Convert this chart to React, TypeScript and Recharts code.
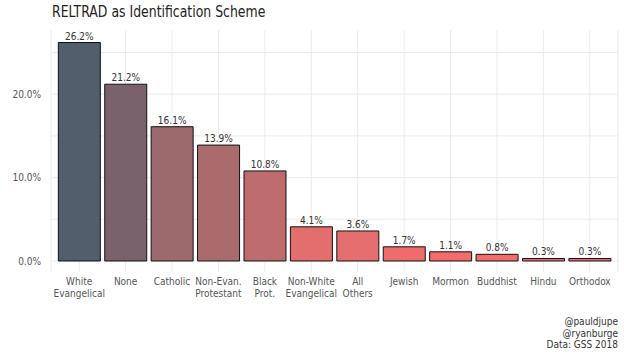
import { BarChart, Bar, XAxis, YAxis, CartesianGrid, LabelList, Cell } from 'recharts'

const categories = [
  'White\nEvangelical',
  'None',
  'Catholic',
  'Non-Evan.\nProtestant',
  'Black\nProt.',
  'Non-White\nEvangelical',
  'All\nOthers',
  'Jewish',
  'Mormon',
  'Buddhist',
  'Hindu',
  'Orthodox',
]
const shares = [26.2, 21.2, 16.1, 13.9, 10.8, 4.1, 3.6, 1.7, 1.1, 0.8, 0.3, 0.3]
const yTicks = [0, 10, 20]
const gridValues = [0, 5, 10, 15, 20, 25]
const captionLines = ['@pauldjupe', '@ryanburge', 'Data: GSS 2018']

// fill runs from slate (largest) to coral (smallest), like a ggplot gradient
const colors = [
  '#525E6B',
  '#79626B',
  '#9C696C',
  '#AA6B6D',
  '#BD6C6E',
  '#E26E6E',
  '#E56E6E',
  '#EF6C6C',
  '#F26C6C',
  '#F36C6C',
  '#F56B6B',
  '#F56B6B',
]

const data = categories.map((name, i) => ({ name, pct: shares[i] }))

const FONT = '"DejaVu Sans Condensed", "Roboto", sans-serif'

const CatTick = (props: any) => {
  const { x, y, payload } = props
  const lines = String(payload.value).split('\n')
  return (
    <text x={x} y={y} textAnchor="middle" fill="#555" fontSize={10} fontFamily={FONT}>
      {lines.map((l, i) => (
        <tspan key={i} x={x} dy={i === 0 ? 5 : 11.5}>
          {l}
        </tspan>
      ))}
    </text>
  )
}

const App = () => {
  return (
    <div style={{ position: 'absolute', left: 0, top: 0, width: 624, height: 357, background: '#fff', fontFamily: FONT }}>
      <div
        style={{
          position: 'absolute',
          left: 52,
          top: 2,
          fontSize: 16.5,
          color: '#222',
          whiteSpace: 'nowrap',
          transform: 'scaleX(0.84)',
          transformOrigin: 'left top',
        }}
      >
        RELTRAD as Identification Scheme
      </div>
      <BarChart
        width={624}
        height={357}
        data={data}
        margin={{ top: 30, right: 6, left: 0, bottom: 55 }}
        barCategoryGap="5%"
      >
        <CartesianGrid stroke="#EBEBEB" horizontalValues={gridValues} />
        <XAxis
          dataKey="name"
          height={30}
          axisLine={false}
          tickLine={false}
          interval={0}
          padding={{ left: 5, right: 5 }}
          tick={<CatTick />}
        />
        <YAxis
          width={51}
          domain={[-1.32, 27.7]}
          ticks={yTicks}
          allowDataOverflow
          axisLine={false}
          tickLine={false}
          tickMargin={4}
          tick={{ fill: '#555', fontSize: 10, fontFamily: FONT }}
          tickFormatter={(v: number) => v.toFixed(1) + '%'}
        />
        <Bar dataKey="pct" stroke="#111" strokeWidth={1} isAnimationActive={false}>
          {data.map((d, i) => (
            <Cell key={d.name} fill={colors[i]} />
          ))}
          <LabelList
            dataKey="pct"
            position="top"
            offset={3}
            fill="#333"
            fontSize={10}
            fontFamily={FONT}
            formatter={(v: any) => Number(v).toFixed(1) + '%'}
          />
        </Bar>
      </BarChart>
      <div
        style={{
          position: 'absolute',
          right: 6,
          top: 316,
          textAlign: 'right',
          fontSize: 10,
          lineHeight: '11.5px',
          color: '#333',
        }}
      >
        {captionLines.map((l) => (
          <div key={l}>{l}</div>
        ))}
      </div>
    </div>
  )
}

export default App
